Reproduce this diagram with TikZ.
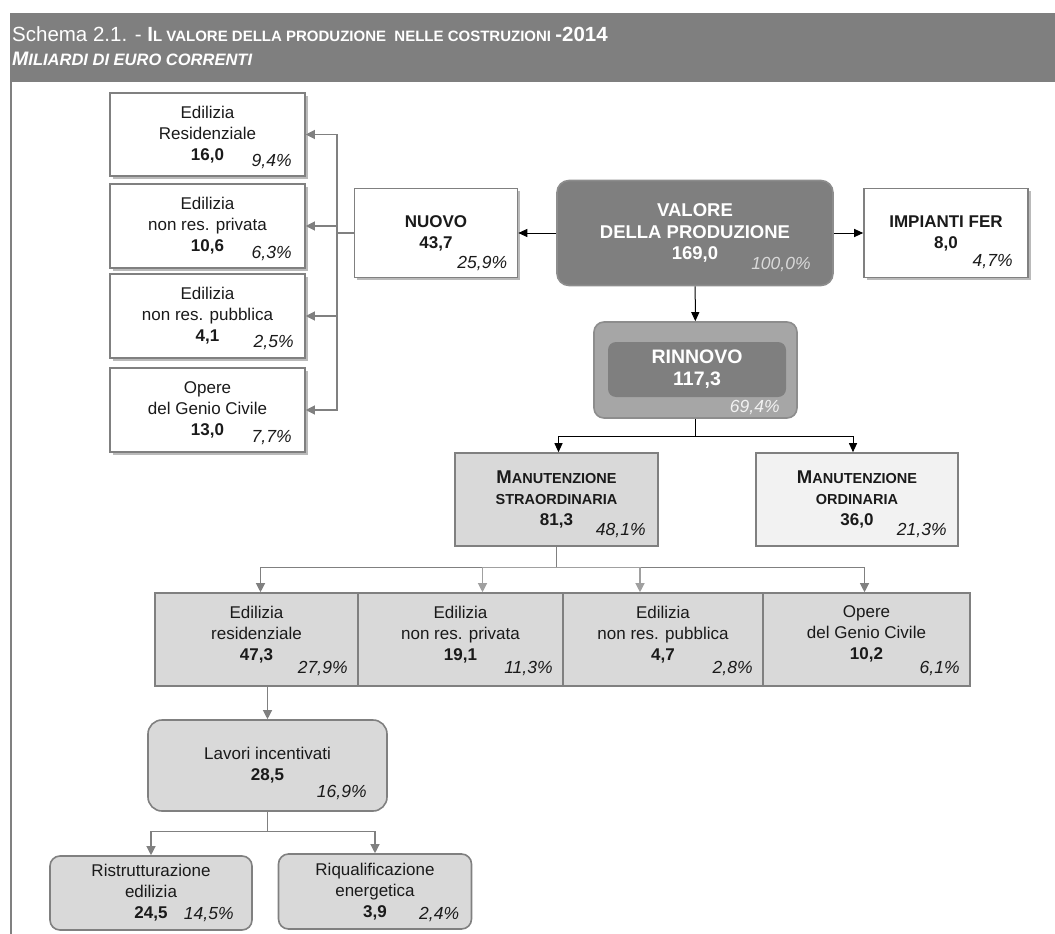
\documentclass[tikz,border=0pt]{standalone}
\usepackage{fontspec}
\setmainfont{Liberation Sans}
\usetikzlibrary{
	arrows.meta,
	shadows,
	% positioning,
}
\definecolor{darkgrey}{HTML}{7F7F7F}
\definecolor{midgrey}{HTML}{A6A6A6}
\definecolor{lightgrey}{HTML}{D9D9D9}
\definecolor{palegrey}{HTML}{F2F2F2}
\definecolor{linegrey}{HTML}{808080}
\definecolor{softgrey}{HTML}{A0A0A0}
\definecolor{textgrey}{HTML}{1A1A1A}

\newcommand{\boxfont}{\fontsize{17}{21}\selectfont}
\newcommand{\smallfont}{\fontsize{14.5}{20}\selectfont}
\newcommand{\capfirst}[2]{{\fontsize{18.5}{20}\selectfont #1}{\smallfont #2}}

\tikzstyle{arrow} = [line width=1pt,-{Triangle[length=9pt,width=8pt]}]
\tikzstyle{gline} = [line width=1.2pt,linegrey]
\tikzstyle{garrow} = [gline,-{Triangle[length=9pt,width=9pt]}]
\tikzstyle{box} = [draw=linegrey,line width=1.6pt,align=center,font=\boxfont,text=textgrey,inner sep=0pt]
\tikzstyle{whitebox} = [box,fill=white,drop shadow={shadow xshift=2.5pt,shadow yshift=-2.5pt,fill=black!45,opacity=0.6}]
\tikzstyle{greybox} = [box,fill=lightgrey]
\tikzset{pct/.style 2 args={anchor=south east,inner sep=0pt,font=\fontsize{17.5}{21}\selectfont\itshape,text=textgrey,xshift=-#1,yshift=#2}}

\begin{document}
\begin{tikzpicture}[x=1pt,y=-1pt]
	\useasboundingbox (0,0) rectangle (1055,934);

	% header band and frame
	\fill[darkgrey] (10,13) rectangle (1055,82);
	\draw[linegrey,line width=2pt] (11,82) -- (11,934);
	\node[anchor=base west,inner sep=0pt,text=white] (title) at (12,42)
		{\fontsize{20.5}{24}\selectfont Schema 2.1. - \bfseries I\fontsize{15}{24}\selectfont L VALORE DELLA PRODUZIONE\ \ NELLE COSTRUZIONI \fontsize{20.5}{24}\selectfont-2014};
	\node[anchor=base west,inner sep=0pt,text=white] (subtitle) at (12,66)
		{\bfseries\itshape\fontsize{19.5}{22}\selectfont M\fontsize{16.5}{22}\selectfont ILIARDI DI EURO CORRENTI};

	% top level
	\node[box,draw=linegrey!90,fill=darkgrey,rounded corners=12pt,text=white,font=\fontsize{18.5}{21.5}\selectfont\bfseries,
		minimum width=276pt,minimum height=105pt,label={[pct={23pt}{14pt},text=lightgrey]south east:100,0\%}] (valore) at (695,233)
		{VALORE\\DELLA PRODUZIONE\\169,0};
	\node[whitebox,font=\boxfont\bfseries,minimum width=163pt,minimum height=89pt,
		label={[pct={11pt}{7pt}]south east:25,9\%}] (nuovo) at (436,233) {NUOVO\\43,7};
	\node[whitebox,font=\boxfont\bfseries,minimum width=164pt,minimum height=89pt,
		label={[pct={16pt}{9pt}]south east:4,7\%}] (fer) at (946,233) {IMPIANTI FER\\8,0};

	% nuovo: left column
	\node[whitebox,minimum width=195pt,minimum height=83pt,label={[pct={14pt}{8pt}]south east:9,4\%}] (ed1) at (207.5,134.5)
		{Edilizia\\Residenziale\\\textbf{16,0}};
	\node[whitebox,minimum width=195pt,minimum height=84pt,label={[pct={14pt}{8pt}]south east:6,3\%}] (ed2) at (207.5,226)
		{Edilizia\\non res. privata\\\textbf{10,6}};
	\node[whitebox,minimum width=195pt,minimum height=84pt,label={[pct={12pt}{9pt}]south east:2,5\%}] (ed3) at (207.5,316)
		{Edilizia\\non res. pubblica\\\textbf{4,1}};
	\node[whitebox,minimum width=195pt,minimum height=84pt,label={[pct={14pt}{8pt}]south east:7,7\%}] (ed4) at (207.5,410)
		{Opere\\del Genio Civile\\\textbf{13,0}};

	% rinnovo
	\node[box,draw=linegrey!90,fill=midgrey,rounded corners=10pt,minimum width=203pt,minimum height=96pt,
		label={[pct={18pt}{4pt},text=palegrey]south east:69,4\%}] (rinnovo) at (695.5,370) {};
	\node[fill=darkgrey,rounded corners=8pt,minimum width=178pt,minimum height=55pt,inner sep=0pt,align=center,
		text=white,font=\fontsize{19.5}{22}\selectfont\bfseries] (rinnovoin) at (697,369.5) {RINNOVO\\117,3};

	% manutenzione
	\node[greybox,font=\boxfont\bfseries,minimum width=203pt,minimum height=93pt,label={[pct={13pt}{9pt}]south east:48,1\%}] (ms) at (556.5,499.5)
		{\capfirst{M}{ANUTENZIONE}\\{\smallfont STRAORDINARIA}\\81,3};
	\node[box,fill=palegrey,font=\boxfont\bfseries,minimum width=202pt,minimum height=93pt,label={[pct={12pt}{9pt}]south east:21,3\%}] (mo) at (857,499.5)
		{\capfirst{M}{ANUTENZIONE}\\{\smallfont ORDINARIA}\\36,0};

	% straordinaria: row of four
	\node[greybox,minimum width=203pt,minimum height=93pt,label={[pct={11pt}{11pt}]south east:27,9\%}] (e1) at (256.5,639.5)
		{Edilizia\\residenziale\\\textbf{47,3}\\[-8pt]};
	\node[greybox,minimum width=205pt,minimum height=93pt,label={[pct={11pt}{11pt}]south east:11,3\%}] (e2) at (460.5,639.5)
		{Edilizia\\non res. privata\\\textbf{19,1}\\[-8pt]};
	\node[greybox,minimum width=200pt,minimum height=93pt,label={[pct={11pt}{11pt}]south east:2,8\%}] (e3) at (663,639.5)
		{Edilizia\\non res. pubblica\\\textbf{4,7}\\[-8pt]};
	\node[greybox,minimum width=207pt,minimum height=93pt,label={[pct={11pt}{11pt}]south east:6,1\%}] (e4) at (866.5,639.5)
		{Opere\\del Genio Civile\\\textbf{10,2}\\[-8pt]};

	% incentivi
	\node[greybox,rounded corners=14pt,minimum width=239pt,minimum height=91pt,label={[pct={21pt}{12pt}]south east:16,9\%}] (lavori) at (267.5,765.5)
		{Lavori incentivati\\\textbf{28,5}};
	\node[greybox,rounded corners=10pt,minimum width=202pt,minimum height=74pt,label={[pct={19pt}{9pt}]south east:14,5\%}] (ristr) at (151,893)
		{Ristrutturazione\\edilizia\\\textbf{24,5}};
	\node[greybox,rounded corners=10pt,minimum width=193pt,minimum height=75pt,label={[pct={13pt}{8pt}]south east:2,4\%}] (riqual) at (375,891.5)
		{Riqualificazione\\energetica\\\textbf{3,9}};

	% connectors
	\draw[arrow] (valore) -- (nuovo);
	\draw[arrow] (valore) -- (fer);
	\draw[arrow] (valore) -- (rinnovo);

	\coordinate (bx) at (337,233);
	\draw[gline] (nuovo.west) -- (bx);
	\foreach \n in {ed1,ed2,ed3,ed4} {
			\draw[garrow] (bx) |- (\n.east);
		}

	\draw[arrow] (rinnovo.south) -- ++(0,18) -| ([xshift=2pt]ms.north);
	\draw[arrow] (rinnovo.south) -- ++(0,18) -| ([xshift=-4pt]mo.north);

	\draw[gline] (ms.south) -- ++(0,21) coordinate (rr);
	\draw[garrow] (rr) -| ([xshift=4pt]e1.north);
	\draw[garrow] (rr) -| ([xshift=-2pt]e4.north);
	\draw[garrow,softgrey] (rr) -| ([xshift=22pt]e2.north);
	\draw[garrow,softgrey] (rr) -| ([xshift=-23pt]e3.north);

	\draw[garrow] (e1.south -| lavori.north) -- (lavori.north);
	\draw[gline] (lavori.south) -- ++(0,20) coordinate (ll);
	\draw[garrow] (ll) -| (ristr.north);
	\draw[garrow] (ll) -| (riqual.north);

\end{tikzpicture}
\end{document}
